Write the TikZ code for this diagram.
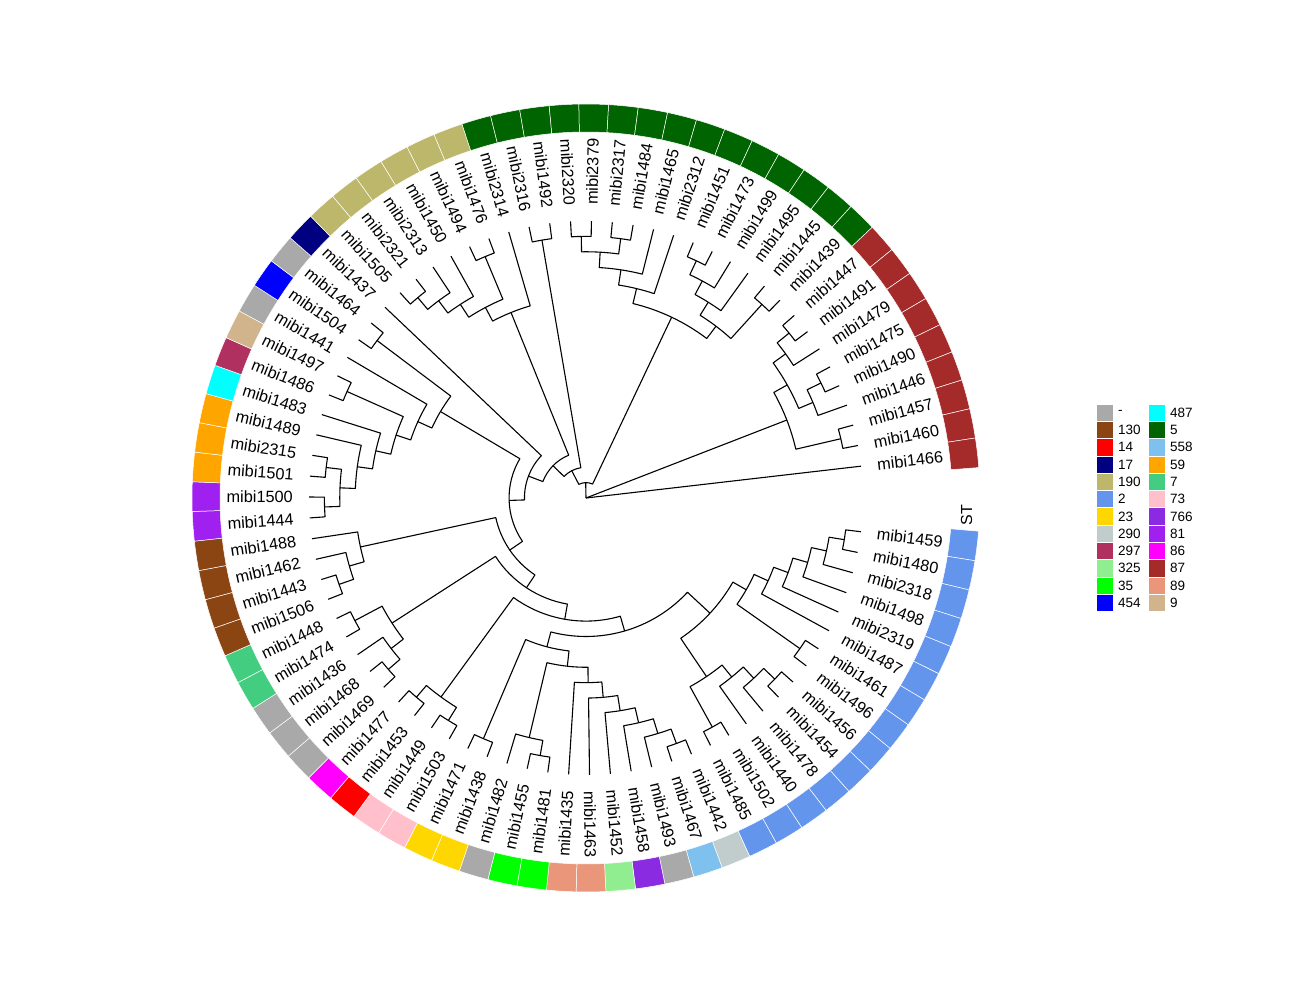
\documentclass[tikz,border=0pt]{standalone}
\usepackage{fontspec}
\setmainfont{Liberation Sans}
\definecolor{cNA}{HTML}{A9A9A9}
\definecolor{c130}{HTML}{8B4513}
\definecolor{c14}{HTML}{FF0000}
\definecolor{c17}{HTML}{000080}
\definecolor{c190}{HTML}{BDB76B}
\definecolor{c2}{HTML}{6495ED}
\definecolor{c23}{HTML}{FFD700}
\definecolor{c290}{HTML}{C1CDCD}
\definecolor{c297}{HTML}{B03060}
\definecolor{c325}{HTML}{90EE90}
\definecolor{c35}{HTML}{00FF00}
\definecolor{c454}{HTML}{0000FF}
\definecolor{c487}{HTML}{00FFFF}
\definecolor{c5}{HTML}{006400}
\definecolor{c558}{HTML}{7EC0EE}
\definecolor{c59}{HTML}{FFA500}
\definecolor{c7}{HTML}{43CD80}
\definecolor{c73}{HTML}{FFC0CB}
\definecolor{c766}{HTML}{8A2BE2}
\definecolor{c81}{HTML}{A020F0}
\definecolor{c86}{HTML}{FF00FF}
\definecolor{c87}{HTML}{A52A2A}
\definecolor{c89}{HTML}{E9967A}
\definecolor{c9}{HTML}{D2B48C}
\newcommand\setA[2]{\expandafter\xdef\csname treeA-#1\endcsname{#2}}
\newcommand\setR[2]{\expandafter\xdef\csname treeR-#1\endcsname{#2}}
\newcommand\getA[1]{\csname treeA-#1\endcsname}
\newcommand\getR[1]{\csname treeR-#1\endcsname}
\newcommand\clade[4]{%
  \pgfmathsetmacro\tcA{\getA{#3}}%
  \pgfmathsetmacro\tcB{\getA{#4}}%
  \pgfmathsetmacro\trA{\getR{#3}}%
  \pgfmathsetmacro\trB{\getR{#4}}%
  \pgfmathsetmacro\tcM{(\tcA+\tcB)/2}%
  \pgfmathsetmacro\tcR{277-15.39*#2}%
  \setA{#1}{\tcM}\setR{#1}{\tcR}%
  \coordinate (#1) at (\tcM:\tcR pt);%
  \draw[branch] (\tcA:\trA pt) -- (\tcA:\tcR pt) arc[start angle=\tcA, end angle=\tcB, radius=\tcR pt] -- (\tcB:\trB pt);%
}
\tikzset{
  branch/.style={line width=1.1pt, line join=round},
  tiplab/.style={font=\fontsize{16.3}{18}\selectfont, inner sep=0pt},
  legkey/.style={minimum size=17.3pt, inner sep=0pt, draw=white, line width=0.6pt},
  legtxt/.style={font=\fontsize{13.5}{15}\selectfont, inner sep=0pt, anchor=west},
  ringseg/.style={draw=white, line width=0.5pt}
}
\begin{document}
\begin{tikzpicture}
\fill[white] (-586pt,-502pt) rectangle (704pt,498pt);
\useasboundingbox (-586pt,-502pt) rectangle (704pt,498pt);
% tips, ring and labels
\foreach \k/\lab/\col in {1/1459/c2, 2/1480/c2, 3/2318/c2, 4/1498/c2, 5/2319/c2, 6/1487/c2, 7/1461/c2, 8/1496/c2, 9/1456/c2, 10/1454/c2, 11/1478/c2, 12/1440/c2, 13/1502/c2, 14/1485/c2, 15/1442/c290, 16/1467/c558, 17/1493/cNA, 18/1458/c766, 19/1452/c325, 20/1463/c89, 21/1435/c89, 22/1481/c35, 23/1455/c35, 24/1482/cNA, 25/1438/c23, 26/1471/c23, 27/1503/c73, 28/1449/c73, 29/1453/c14, 30/1477/c86, 31/1469/cNA, 32/1468/cNA, 33/1436/cNA, 34/1474/c7, 35/1448/c7, 36/1506/c130, 37/1443/c130, 38/1462/c130, 39/1488/c130, 40/1444/c81, 41/1500/c81, 42/1501/c59, 43/2315/c59, 44/1489/c59, 45/1483/c487, 46/1486/c297, 47/1497/c9, 48/1441/cNA, 49/1504/c454, 50/1464/cNA, 51/1437/c17, 52/1505/c190, 53/2321/c190, 54/2313/c190, 55/1450/c190, 56/1494/c190, 57/1476/c190, 58/2314/c5, 59/2316/c5, 60/1492/c5, 61/2320/c5, 62/2379/c5, 63/2317/c5, 64/1484/c5, 65/1465/c5, 66/2312/c5, 67/1451/c5, 68/1473/c5, 69/1499/c5, 70/1495/c5, 71/1445/c5, 72/1439/c5, 73/1447/c87, 74/1491/c87, 75/1479/c87, 76/1475/c87, 77/1490/c87, 78/1446/c87, 79/1457/c87, 80/1460/c87, 81/1466/c87}{
  \pgfmathsetmacro\ang{353-(\k-1)*4.33}
  \setA{\k}{\ang}\setR{\k}{277}
  \coordinate (t\k) at (\ang:277pt);
  \pgfmathsetmacro\sgA{\ang+2.165}
  \pgfmathsetmacro\sgB{\ang-2.165}
  \filldraw[ringseg, fill=\col] (\sgA:366pt) arc[start angle=\sgA, end angle=\sgB, radius=366pt] -- (\sgB:394pt) arc[start angle=\sgB, end angle=\sgA, radius=394pt] -- cycle;
  \pgfmathtruncatemacro\flip{(\ang>90)&&(\ang<270)}
  \ifnum\flip=1
    \pgfmathsetmacro\lrot{\ang-180}
    \node[tiplab, anchor=east, rotate=\lrot] (lab\k) at (\ang:293pt) {mibi\lab};
  \else
    \node[tiplab, anchor=west, rotate=\ang] (lab\k) at (\ang:293pt) {mibi\lab};
  \fi
}
% blue clade
\clade{N12}{1}{1}{2}
\clade{N123}{2}{N12}{3}
\clade{M}{3}{N123}{4}
\clade{L}{4}{M}{5}
\clade{K}{5}{L}{6}
\clade{N78}{1}{7}{8}
\clade{J}{6}{K}{N78}
\clade{N910}{1}{9}{10}
\clade{Q2}{2}{N910}{11}
\clade{P}{3}{Q2}{12}
\clade{N1314}{1}{13}{14}
\clade{O}{4}{P}{N1314}
\clade{I}{7}{J}{O}
% bottom clades
\clade{N1516}{1}{15}{16}
\clade{Y2}{2}{N1516}{17}
\clade{X2}{3}{Y2}{18}
\clade{W2}{4}{X2}{19}
\clade{V}{5}{W2}{20}
\clade{U}{6}{V}{21}
\clade{N2223}{1}{22}{23}
\clade{T}{2}{N2223}{24}
\clade{S}{7}{U}{T}
\clade{N2526}{1}{25}{26}
\clade{F}{8}{S}{N2526}
\clade{H}{9}{I}{F}
\clade{N2728}{1}{27}{28}
\clade{N2930}{1}{29}{30}
\clade{N2730}{2}{N2728}{N2930}
\clade{E}{10}{H}{N2730}
\clade{N3132}{1}{31}{32}
\clade{W}{2}{N3132}{33}
\clade{N3435}{1}{34}{35}
\clade{N3135}{3}{W}{N3435}
\clade{D}{11}{E}{N3135}
\clade{N3637}{1}{36}{37}
\clade{Q}{2}{N3637}{38}
\clade{N3639}{3}{Q}{39}
\clade{Z1}{12}{D}{N3639}
% left clade
\clade{N4041}{1}{40}{41}
\clade{N4243}{1}{42}{43}
\clade{N4043}{2}{N4041}{N4243}
\clade{N4044}{3}{N4043}{44}
\clade{N4045}{4}{N4044}{45}
\clade{N4647}{1}{46}{47}
\clade{N4047}{5}{N4045}{N4647}
\clade{N4048}{6}{N4047}{48}
\clade{N4950}{1}{49}{50}
\clade{N4050}{7}{N4048}{N4950}
\clade{Z2}{13}{Z1}{N4050}
\clade{Z3}{14}{Z2}{51}
% olive clade
\clade{N5253}{1}{52}{53}
\clade{N5254}{2}{N5253}{54}
\clade{N5255}{3}{N5254}{55}
\clade{N5657}{1}{56}{57}
\clade{N5257}{4}{N5255}{N5657}
\clade{N5258}{5}{N5257}{58}
\clade{C}{15}{Z3}{N5258}
\clade{N5960}{1}{59}{60}
\clade{B}{16}{C}{N5960}
% green clade
\clade{N6162}{1}{61}{62}
\clade{N6364}{1}{63}{64}
\clade{N6164}{2}{N6162}{N6364}
\clade{N6165}{3}{N6164}{65}
\clade{N6166}{4}{N6165}{66}
\clade{N6768}{1}{67}{68}
\clade{N6769}{2}{N6768}{69}
\clade{N6770}{3}{N6769}{70}
\clade{N7172}{1}{71}{72}
\clade{P2}{4}{N6770}{N7172}
\clade{G}{5}{N6166}{P2}
\clade{A}{17}{B}{G}
% red clade
\clade{N7374}{1}{73}{74}
\clade{N7375}{2}{N7374}{75}
\clade{N7677}{1}{76}{77}
\clade{N7678}{2}{N7677}{78}
\clade{N7378}{3}{N7375}{N7678}
\clade{N7980}{1}{79}{80}
\clade{R1}{4}{N7378}{N7980}
% root
\coordinate (root) at (0,0);
\draw[branch] (root) -- (A);
\draw[branch] (root) -- (R1);
\draw[branch] (root) -- (t81);
% column label
\node[font=\fontsize{16}{18}\selectfont, rotate=90, inner sep=0pt] (st) at (-2.6:381pt) {ST};
% legend
\foreach \i/\col/\txt in {0/cNA/-, 1/c130/130, 2/c14/14, 3/c17/17, 4/c190/190, 5/c2/2, 6/c23/23, 7/c290/290, 8/c297/297, 9/c325/325, 10/c35/35, 11/c454/454}{
  \pgfmathsetmacro\ly{94-17.3*\i-8.65}
  \node[legkey, fill=\col] (keyA\i) at (518.65pt,\ly pt) {};
  \node[legtxt] (txtA\i) at (532pt,\ly pt) {\txt};
}
\foreach \i/\col/\txt in {0/c487/487, 1/c5/5, 2/c558/558, 3/c59/59, 4/c7/7, 5/c73/73, 6/c766/766, 7/c81/81, 8/c86/86, 9/c87/87, 10/c89/89, 11/c9/9}{
  \pgfmathsetmacro\ly{94-17.3*\i-8.65}
  \node[legkey, fill=\col] (keyB\i) at (570.65pt,\ly pt) {};
  \node[legtxt] (txtB\i) at (584pt,\ly pt) {\txt};
}
\end{tikzpicture}
\end{document}
